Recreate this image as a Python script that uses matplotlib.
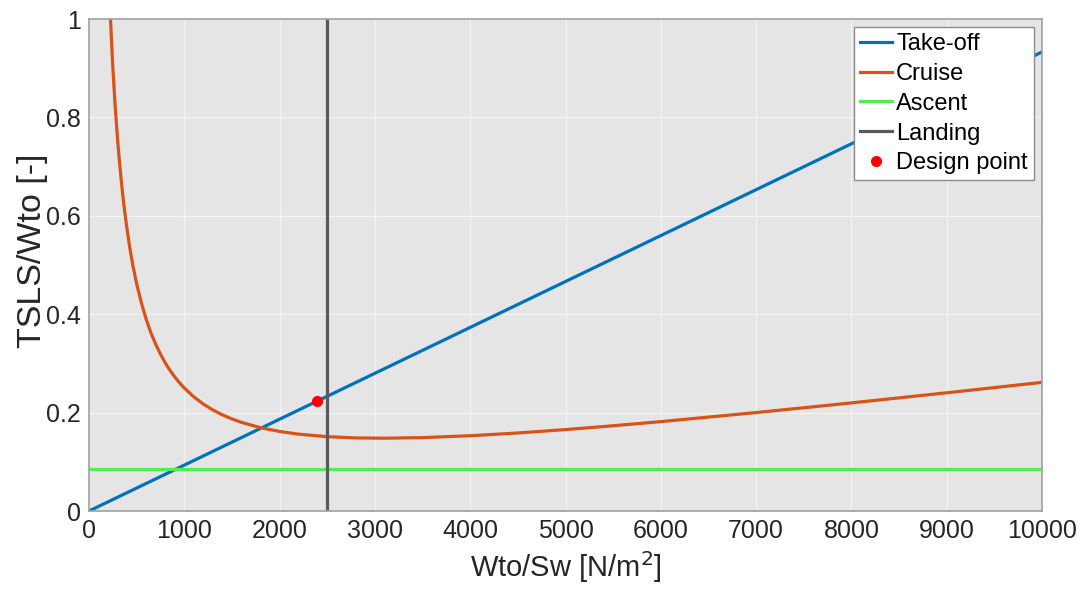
import numpy as np
import matplotlib
matplotlib.use("Agg")
import matplotlib.pyplot as plt

plt.rcParams['font.family'] = ['Liberation Sans', 'DejaVu Sans']

# values
takeoff_x = [0, 10000]
takeoff_y = [0.0, 0.933]

cruise_x = [220, 230, 240, 250, 260, 270, 280, 290, 300, 320, 340, 360, 380,
            400, 430, 460, 500, 550, 600, 650, 700, 750, 800, 850, 900, 950,
            1000, 1100, 1200, 1300, 1400, 1500, 1600, 1800, 2000, 2200, 2500,
            2800, 3100, 3500, 4000, 4500, 5000, 5500, 6000, 7000, 8000, 9000,
            10000]
cruise_y = [1.026, 0.982, 0.941, 0.904, 0.870, 0.838, 0.809, 0.782, 0.756,
            0.710, 0.669, 0.633, 0.601, 0.572, 0.533, 0.500, 0.462, 0.423,
            0.390, 0.362, 0.339, 0.319, 0.301, 0.286, 0.2725, 0.2606, 0.250,
            0.232, 0.2174, 0.2054, 0.1955, 0.1872, 0.1802, 0.1694, 0.1617,
            0.1562, 0.1511, 0.1486, 0.1480, 0.1492, 0.1530, 0.1586, 0.1655,
            0.1733, 0.1817, 0.2001, 0.2197, 0.2403, 0.2615]

ascent_x = [0, 10000]
ascent_y = [0.086, 0.086]

landing_x = [2500, 2500]
landing_y = [0, 1]

design_x = [2390]
design_y = [0.224]

xticks = [0, 1000, 2000, 3000, 4000, 5000, 6000, 7000, 8000, 9000, 10000]
yticks = [0, 0.2, 0.4, 0.6, 0.8, 1]
ytick_labels = ['0', '0.2', '0.4', '0.6', '0.8', '1']

fig = plt.figure(figsize=(10.85, 5.94), dpi=100)
ax = fig.add_axes([0.082, 0.1397, 0.8784, 0.8283])
ax.set_facecolor('#e5e5e5')

lw = 2.3
ax.plot(takeoff_x, takeoff_y, color='#0072BD', lw=lw, label='Take-off')
ax.plot(cruise_x, cruise_y, color='#D95319', lw=lw, label='Cruise')
ax.plot(ascent_x, ascent_y, color='#4DF04D', lw=lw, label='Ascent')
ax.plot(landing_x, landing_y, color='#5a5a5a', lw=lw, label='Landing')
ax.plot(design_x, design_y, 'o', color='#ff0000', ms=7, label='Design point')

ax.set_xlim(0, 10000)
ax.set_ylim(0, 1)
ax.set_xticks(xticks)
ax.set_yticks(yticks)
ax.set_yticklabels(ytick_labels)
ax.grid(True, color='#f4f4f4', lw=0.9)
ax.set_axisbelow(True)
ax.tick_params(length=0, labelsize=18, labelcolor='#262626', pad=6)
for s in ax.spines.values():
    s.set_color('#a0a0a0')
    s.set_linewidth(1.2)

ax.set_xlabel('Wto/Sw [N/m$^2$]', fontsize=21, color='#262626')
ax.set_ylabel('TSLS/Wto [-]', fontsize=24.5, color='#262626')
ax.yaxis.set_label_coords(-0.043, 0.528)

leg = ax.legend(loc='upper right', fontsize=17, frameon=True, fancybox=False,
                handlelength=1.35, handletextpad=0.2, borderpad=0.25,
                labelspacing=0.33, borderaxespad=0.35)
leg.get_frame().set_edgecolor('#8c8c8c')
leg.get_frame().set_linewidth(1.0)
leg.get_frame().set_alpha(1)

fig.savefig('out.png', dpi=100)
